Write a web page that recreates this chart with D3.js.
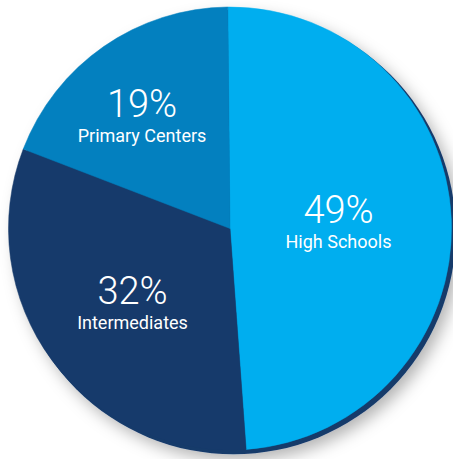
<!DOCTYPE html>
<html>
<head>
<meta charset="utf-8">
<script src="https://cdn.jsdelivr.net/npm/d3@7/dist/d3.min.js"></script>
<style>
  html, body { margin: 0; padding: 0; background: #ffffff; }
  svg { display: block; }
</style>
</head>
<body>
<svg id="chart" width="453" height="459"></svg>
<script>
// Data
const categories = ["High Schools", "Intermediates", "Primary Centers"];
const values = [49, 32, 19];
const valueLabels = ["49%", "32%", "19%"];
const colors = ["#00aeef", "#163a6b", "#0380bf"];

const W = 453, H = 459;
const cx = 230, cy = 228.5, R = 221.5;
const start = -0.01;

const svg = d3.select("#chart");
const defs = svg.append("defs");
const f = defs.append("filter").attr("id", "shadow")
  .attr("x", "-20%").attr("y", "-20%").attr("width", "140%").attr("height", "140%");
f.append("feDropShadow").attr("dx", 5).attr("dy", 6).attr("stdDeviation", 8)
  .attr("flood-color", "#000").attr("flood-opacity", 0.3);

const g = svg.append("g").attr("transform", `translate(${cx},${cy})`);

// backing rim circle with drop shadow
g.append("circle")
  .attr("cx", 3.5).attr("cy", 3.5).attr("r", R + 0.8)
  .attr("fill", "#163a6b")
  .attr("filter", "url(#shadow)");

const pie = d3.pie().sort(null).value(d => d.v).startAngle(start).endAngle(start + 2 * Math.PI);
const data = categories.map((c, i) => ({ c, v: values[i], lab: valueLabels[i], col: colors[i] }));
const arcs = pie(data);
const arc = d3.arc().innerRadius(0).outerRadius(R);

g.selectAll("path.slice").data(arcs).enter().append("path")
  .attr("class", "slice")
  .attr("d", arc)
  .attr("fill", d => d.data.col)
  .attr("stroke", d => d.data.col)
  .attr("stroke-width", 0.5);

// label anchor positions relative to the pie centre
const labelPos = {
  "High Schools": [108.5, -5.5],
  "Intermediates": [-97.5, 75.5],
  "Primary Centers": [-88, -111.5]
};
const labels = g.selectAll("g.lab").data(arcs).enter().append("g")
  .attr("class", "lab")
  .attr("transform", d => {
    const p = labelPos[d.data.c];
    return `translate(${p[0]},${p[1]})`;
  });

labels.append("text")
  .attr("text-anchor", "middle")
  .attr("y", 0)
  .attr("font-family", "Roboto, 'Liberation Sans', sans-serif")
  .attr("font-size", 38)
  .attr("font-weight", 300)
  .attr("fill", "#ffffff")
  .text(d => d.data.lab);

labels.append("text")
  .attr("text-anchor", "middle")
  .attr("y", 25)
  .attr("font-family", "Roboto, 'Liberation Sans', sans-serif")
  .attr("font-size", 18)
  .attr("font-weight", 400)
  .attr("fill", "#ffffff")
  .text(d => d.data.c);
</script>
</body>
</html>
